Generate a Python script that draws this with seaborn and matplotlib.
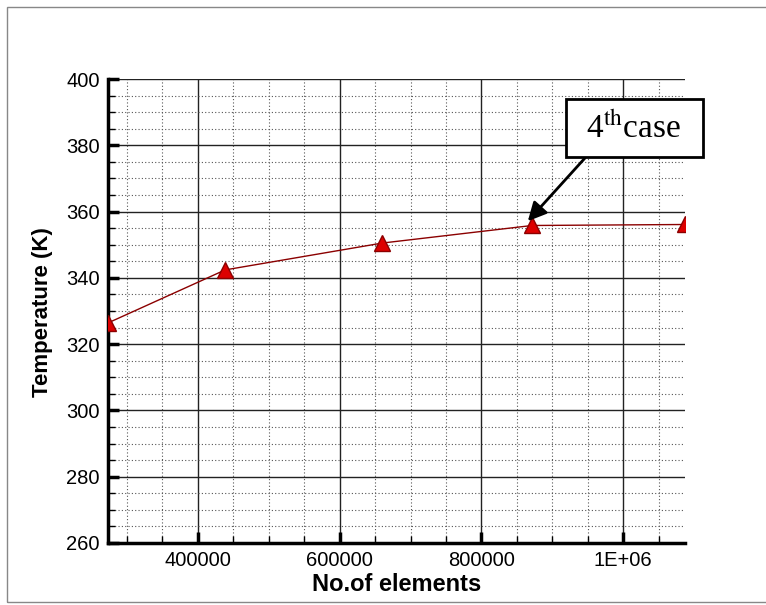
import numpy as np
import pandas as pd
import matplotlib
matplotlib.use('Agg')
import matplotlib.pyplot as plt
import matplotlib.patches as patches
from matplotlib.ticker import MultipleLocator, FixedLocator
import seaborn as sns

# grid independence data
n_elements = [273500, 438700, 660200, 871400, 1087000]
temperature = [326.4, 342.4, 350.5, 355.8, 356.1]
x_major = [400000, 600000, 800000, 1000000]
x_labels = ['400000', '600000', '800000', '1E+06']
case_label = '4$^{\\rm th}$case'

sns.set_style('white')
plt.rcParams['font.family'] = ['Liberation Sans', 'DejaVu Sans']
plt.rcParams['mathtext.fontset'] = 'stix'
plt.rcParams['text.color'] = 'black'
plt.rcParams['axes.labelcolor'] = 'black'
plt.rcParams['xtick.color'] = 'black'
plt.rcParams['ytick.color'] = 'black'

df = pd.DataFrame({'elements': n_elements, 'temp': temperature})

fig = plt.figure(figsize=(7.66, 6.05), dpi=100)
ax = fig.add_axes([108 / 766, 62 / 605, 577 / 766, 464 / 605])

sns.lineplot(data=df, x='elements', y='temp', ax=ax, color='#8b0000', lw=1,
             marker='^', markersize=11, markerfacecolor='#dd0000',
             markeredgecolor='#8b0000', markeredgewidth=1, zorder=5)

ax.set_xlim(min(n_elements), max(n_elements))
ax.set_ylim(260, 400)
ax.xaxis.set_major_locator(FixedLocator(x_major))
ax.set_xticklabels(x_labels)
ax.xaxis.set_minor_locator(MultipleLocator(50000))
ax.yaxis.set_major_locator(MultipleLocator(20))
ax.yaxis.set_minor_locator(MultipleLocator(5))

ax.grid(which='major', color='#222222', lw=1, ls='-')
ax.grid(which='minor', color='#555555', lw=0.8, ls=(0, (1, 2)))
ax.set_axisbelow(True)

for side in ['top', 'right']:
    ax.spines[side].set_visible(False)
for side in ['left', 'bottom']:
    ax.spines[side].set_linewidth(2.5)
    ax.spines[side].set_color('black')

ax.tick_params(which='major', direction='in', length=8, width=2.5,
               labelsize=14.5, pad=6, left=True, bottom=True)
ax.tick_params(which='minor', direction='in', length=5, width=1,
               left=True, bottom=True)

ax.set_xlabel('No.of elements', fontsize=17, fontweight='bold')
ax.set_ylabel('Temperature (K)', fontsize=16, fontweight='bold')
ax.xaxis.set_label_coords(0.5, -(573 - 543) / 464)
ax.yaxis.set_label_coords((53 - 108) / 577, (543 - 312) / 464)

# annotation box with arrow
box = patches.Rectangle((566 / 766, 1 - 157 / 605), 137 / 766, 58 / 605,
                        transform=fig.transFigure, facecolor='white',
                        edgecolor='black', lw=2, zorder=10)
fig.patches.append(box)
fig.text(634 / 766, 1 - 128 / 605, case_label, family='Liberation Serif',
         fontsize=24, ha='center', va='center', zorder=11)
ax.annotate('', xy=(n_elements[3] - 6000, temperature[3] + 1.3),
            xytext=(585 / 766, 1 - 158 / 605), textcoords='figure fraction',
            arrowprops=dict(arrowstyle='-|>', lw=2, color='black',
                            mutation_scale=28, shrinkA=0, shrinkB=0),
            zorder=12)

# outer frame
frame = patches.Rectangle((7 / 766, 3 / 605), 1, 595 / 605,
                          transform=fig.transFigure, fill=False,
                          edgecolor='#888888', lw=1)
fig.patches.append(frame)

fig.savefig('out.png', dpi=100)
